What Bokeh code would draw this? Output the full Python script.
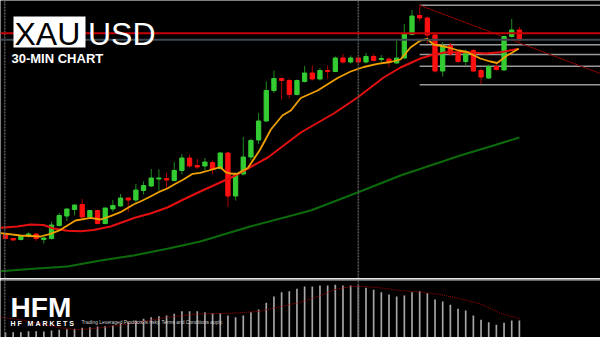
from bokeh.plotting import figure
from bokeh.models import Span, Label, Range1d, ColumnDataSource, BoxAnnotation
from bokeh.layouts import column
from bokeh.embed import file_html
from bokeh.resources import INLINE

# ---------------- data (XAUUSD, 30-min candles) ----------------
open_ = [2376.6, 2376.2, 2376.1, 2376.45, 2376.65, 2376.1, 2376.2, 2377.5, 2378.45, 2379.1,
         2379.6, 2378.35, 2379.0, 2377.7, 2379.15, 2379.45, 2380.25, 2380.05, 2381.0, 2381.45,
         2382.15, 2382.2, 2382.0, 2383.0, 2384.25, 2383.5, 2383.45, 2383.8, 2383.2, 2384.75,
         2380.45, 2382.65, 2384.35, 2386.05, 2387.95, 2391.0, 2392.2, 2392.0, 2390.6, 2391.9,
         2392.75, 2392.15, 2393.0, 2392.9, 2394.25, 2393.85, 2394.25, 2393.85, 2394.4, 2394.1,
         2394.15, 2393.75, 2394.25, 2396.6, 2398.5, 2398.25, 2396.55, 2392.95, 2395.5, 2394.85,
         2393.9, 2395.0, 2393.0, 2392.25, 2393.4, 2393.05, 2396.4, 2397.05]
close = [2376.2, 2376.05, 2376.45, 2376.65, 2376.2, 2376.25, 2377.55, 2378.5, 2379.15, 2379.55,
         2378.35, 2379.0, 2377.7, 2379.25, 2379.5, 2380.25, 2380.05, 2381.05, 2381.5, 2382.25,
         2382.25, 2382.05, 2383.0, 2384.25, 2383.45, 2383.35, 2383.85, 2383.1, 2384.75, 2380.45,
         2382.65, 2384.35, 2386.0, 2387.95, 2391.0, 2392.2, 2392.0, 2390.6, 2392.0, 2392.75,
         2392.15, 2393.0, 2392.9, 2394.25, 2393.85, 2394.25, 2393.85, 2394.4, 2394.0, 2394.2,
         2393.85, 2394.25, 2396.65, 2398.45, 2398.25, 2396.55, 2392.95, 2395.5, 2394.65, 2393.9,
         2394.85, 2392.95, 2392.35, 2393.4, 2393.1, 2396.4, 2397.05, 2396.05]
high = [2376.7, 2376.25, 2376.5, 2376.8, 2376.75, 2376.35, 2377.9, 2378.75, 2379.2, 2379.6,
        2380.15, 2379.05, 2379.1, 2379.3, 2380.05, 2380.65, 2380.3, 2381.65, 2381.9, 2383.15,
        2383.1, 2382.8, 2383.85, 2384.65, 2384.6, 2384.15, 2384.25, 2384.0, 2384.85, 2384.85,
        2382.8, 2386.35, 2386.2, 2388.75, 2391.9, 2393.0, 2392.3, 2392.2, 2392.1, 2393.45,
        2393.5, 2393.25, 2393.5, 2394.4, 2394.65, 2394.5, 2394.4, 2394.75, 2394.65, 2394.55,
        2394.3, 2396.0, 2397.65, 2399.05, 2399.5, 2398.4, 2396.7, 2395.85, 2395.75, 2395.0,
        2395.1, 2395.15, 2393.2, 2393.6, 2393.85, 2396.5, 2398.15, 2397.35]
low = [2376.1, 2376.0, 2376.0, 2376.3, 2375.95, 2375.7, 2376.1, 2377.4, 2377.95, 2378.5,
       2378.3, 2378.25, 2377.6, 2377.6, 2378.9, 2379.4, 2378.85, 2379.8, 2380.6, 2381.35,
       2381.0, 2381.25, 2381.9, 2382.6, 2383.3, 2383.15, 2383.0, 2382.65, 2383.1, 2379.35,
       2380.0, 2382.5, 2384.0, 2385.65, 2387.85, 2390.75, 2390.1, 2390.2, 2390.5, 2391.8,
       2392.0, 2392.0, 2392.2, 2392.85, 2393.7, 2393.7, 2393.7, 2393.7, 2393.9, 2393.85,
       2393.35, 2393.7, 2394.2, 2396.5, 2398.0, 2395.7, 2392.8, 2392.4, 2394.5, 2393.8,
       2393.5, 2392.85, 2391.65, 2392.15, 2393.0, 2393.0, 2396.3, 2395.9]

# moving averages (read at candle positions)
ma_fast_x = [-0.65, 1.96, 4.56, 5.87, 7.17, 9.13, 11.08, 12.39, 13.69, 14.99, 16.69, 17.86, 18.9,
             19.95, 21.1, 22.16, 23.2, 24.4, 25.4, 26.5, 28.0, 28.7, 29.3, 30.2, 31.6, 33.2, 34.6,
             36.1, 37.2, 38.5, 40.7, 42.1, 43.3, 45.0, 46.7, 48.5, 50.2, 51.5, 52.8, 54.1, 55.0,
             55.8, 57.5, 59.1, 60.2, 61.9, 63.2, 64.1, 65.4, 66.9]
ma_fast = [2376.73, 2376.5, 2376.4, 2376.67, 2377.07, 2378.0, 2378.27, 2378.1, 2378.43, 2378.83,
           2379.6, 2380.0, 2380.4, 2380.83, 2381.2, 2381.67, 2382.1, 2382.67, 2382.77, 2383.0,
           2383.33, 2382.83, 2382.7, 2382.67, 2383.25, 2385.1, 2387.1, 2388.5, 2389.0, 2390.25,
           2391.0, 2391.67, 2392.25, 2392.9, 2393.35, 2393.67, 2393.85, 2394.1, 2395.3, 2396.0,
           2396.15, 2395.6, 2395.35, 2395.0, 2394.85, 2394.2, 2393.9, 2393.75, 2394.5, 2395.17]
ma_mid_x = [-0.65, 1.56, 3.26, 4.95, 6.26, 8.08, 9.78, 11.47, 13.69, 16.95, 18.9, 21.1, 23.2,
            25.4, 29.7, 34.2, 38.5, 42.8, 45.9, 49.3, 51.5, 54.1, 55.8, 57.5, 60.2, 62.6, 64.5, 66.9]
ma_mid = [2377.27, 2377.4, 2377.6, 2377.55, 2377.2, 2376.97, 2376.93, 2377.05, 2377.4, 2378.3,
          2378.7, 2379.3, 2380.1, 2380.9, 2382.4, 2384.3, 2386.8, 2388.7, 2390.3, 2392.3,
          2393.3, 2394.2, 2394.6, 2394.83, 2394.83, 2394.7, 2394.83, 2395.17]
ma_slow_x = [-0.65, 3.65, 8.08, 12.39, 16.69, 21.1, 25.4, 31.9, 39.8, 45.9, 51.5, 55.4, 59.3, 63.2, 67.0]
ma_slow = [2372.93, 2373.17, 2373.4, 2374.0, 2374.5, 2375.17, 2375.9, 2377.4, 2379.0, 2380.8,
           2382.5, 2383.5, 2384.5, 2385.4, 2386.3]

# price lines / objects
bid_line = 2396.73
ask_line = 2396.07
fib_anchor_idx = 54
fib_levels = [2399.53, 2395.57, 2394.6, 2393.43, 2391.57]
trend_idx = [54, 67]
trend_price = [2399.53, 2395.76]
session_breaks = [-0.1, 46]

# oscillator (histogram + signal)
osc_hist = [0.5, 0.53, 0.53, 0.63, 0.63, 0.6, 0.7, 0.77, 0.83, 0.87,
            0.97, 1.03, 1.1, 1.13, 1.2, 1.37, 1.53, 1.7, 1.87, 2.03,
            2.13, 2.2, 2.37, 2.63, 2.63, 2.63, 2.53, 2.43, 2.43, 2.2,
            2.03, 2.2, 2.53, 2.8, 3.47, 4.1, 4.53, 4.63, 4.87, 5.1,
            5.1, 5.2, 5.2, 5.27, 5.2, 5.2, 5.2, 4.97, 4.77, 4.53,
            4.3, 4.1, 4.2, 4.53, 4.63, 4.43, 3.8, 3.6, 3.27, 2.87,
            2.7, 2.2, 1.77, 1.53, 1.27, 1.47, 1.7, 1.7]
osc_sig_x = [-0.65, 1.96, 4.56, 7.17, 9.39, 12.39, 16.69, 21.1, 25.4, 29.7, 33.2, 35.5, 38.5,
             41.1, 42.8, 45.0, 46.3, 48.9, 51.5, 54.1, 56.7, 59.3, 61.9, 64.5, 67.0]
osc_sig = [2.03, 1.77, 1.37, 0.97, 0.77, 0.97, 1.43, 2.03, 2.37, 2.43, 2.63, 3.03, 3.53,
           4.2, 4.77, 5.1, 5.13, 4.97, 4.7, 4.53, 4.3, 3.87, 3.37, 2.43, 1.87]

# ---------------- figures ----------------
idx = list(range(len(open_)))
up = [c >= o for o, c in zip(open_, close)]
GREEN, GREEN_W = "#33cc33", "#1f8a1f"
RED, RED_W = "#ff1010", "#b00000"
src = ColumnDataSource(dict(
    x=idx, top=[max(o, c) for o, c in zip(open_, close)],
    bottom=[min(o, c) for o, c in zip(open_, close)],
    high=high, low=low,
    body=[GREEN if u else RED for u in up],
    wick=[GREEN_W if u else RED_W for u in up]))

x_range = Range1d(-0.652, 77.575)
FONT = "Liberation Sans"
NB = "\u00a0"

p = figure(width=600, height=278, x_range=x_range, y_range=Range1d(2372.2, 2400.0),
           output_backend="svg", toolbar_location=None, x_axis_type=None, y_axis_type=None,
           min_border=0, background_fill_color="#000000", border_fill_color="#000000",
           outline_line_color=None)

for s in session_breaks:
    p.add_layout(Span(location=s, dimension="height", line_color="#5a5a5a",
                      line_dash="2 1", line_width=1.5))
p.add_layout(Span(location=bid_line, dimension="width", line_color="#c40000", line_width=2))
p.add_layout(Span(location=ask_line, dimension="width", line_color="#3e4852", line_width=2))

x_end = x_range.end
p.segment(x0=[fib_anchor_idx] * len(fib_levels), y0=fib_levels,
          x1=[x_end] * len(fib_levels), y1=fib_levels, line_color="#9a9a9a", line_width=1.5)
slope = (trend_price[1] - trend_price[0]) / (trend_idx[1] - trend_idx[0])
p.segment(x0=[trend_idx[0]], y0=[trend_price[0]], x1=[x_end],
          y1=[trend_price[0] + slope * (x_end - trend_idx[0])], line_color="#8b0000", line_width=1)

p.segment(x0="x", y0="high", x1="x", y1="low", line_color="wick", line_width=1, source=src)
p.vbar(x="x", top="top", bottom="bottom", width=0.56, fill_color="body", line_color="body",
       line_width=1, source=src)

p.line(ma_slow_x, ma_slow, line_color="#0b6b0b", line_width=2)
p.line(ma_mid_x, ma_mid, line_color="#e41010", line_width=2)
p.line(ma_fast_x, ma_fast, line_color="#f0a000", line_width=1.8)

p.add_layout(BoxAnnotation(left=13, right=85, top=16, bottom=47,
                           left_units="canvas", right_units="canvas",
                           top_units="canvas", bottom_units="canvas",
                           fill_color="#ffffff", fill_alpha=1.0, line_color=None))
p.add_layout(Label(x=14, y=245, x_units="screen", y_units="screen", text="XAU",
                   text_font=FONT, text_font_size="32px", text_color="#000000",
                   text_baseline="alphabetic"))
p.add_layout(Label(x=87.5, y=245, x_units="screen", y_units="screen", text="USD",
                   text_font=FONT, text_font_size="32px", text_color="#ffffff",
                   text_baseline="alphabetic"))
p.add_layout(Label(x=11, y=220, x_units="screen", y_units="screen", text="30-MIN CHART",
                   text_font=FONT, text_font_size="13px", text_font_style="bold",
                   text_color="#ffffff", text_baseline="alphabetic"))

q = figure(width=600, height=59, x_range=x_range, y_range=Range1d(0, 5.7),
           output_backend="svg", toolbar_location=None, x_axis_type=None, y_axis_type=None,
           min_border=0, min_border_top=2, background_fill_color="#000000",
           border_fill_color="#9a9a9a", outline_line_color=None)
for s in session_breaks:
    q.add_layout(Span(location=s, dimension="height", line_color="#5a5a5a",
                      line_dash="2 1", line_width=1.5))
q.vbar(x=idx, top=osc_hist, bottom=0, width=0.22, fill_color="#a6a6a6", line_color=None)
q.line(osc_sig_x, osc_sig, line_color="#a00000", line_width=1, line_dash="1 1")

q.add_layout(Label(x=10, y=30.5, x_units="screen", y_units="screen", text="HF",
                   text_font=FONT, text_font_size="28px", text_font_style="bold",
                   text_color="#ffffff", text_baseline="alphabetic"))
q.add_layout(Label(x=47.5, y=30.5, x_units="screen", y_units="screen", text="M",
                   text_font=FONT, text_font_size="28px", text_font_style="bold",
                   text_color="#ffffff", text_baseline="alphabetic"))
q.add_layout(Label(x=10, y=14.2, x_units="screen", y_units="screen",
                   text=NB.join("HF") + NB * 3 + NB.join("MARKETS"),
                   text_font=FONT, text_font_size="7px", text_font_style="bold",
                   text_color="#ffffff", text_baseline="alphabetic"))
q.add_layout(Label(x=81, y=14.8, x_units="screen", y_units="screen",
                   text="Trading Leveraged Products is risky. Terms and Conditions apply.",
                   text_font=FONT, text_font_size="4.9px", text_color="#d0d0d0",
                   text_baseline="alphabetic"))

layout = column(p, q, spacing=0)
open("out.html", "w").write(file_html(layout, INLINE))
